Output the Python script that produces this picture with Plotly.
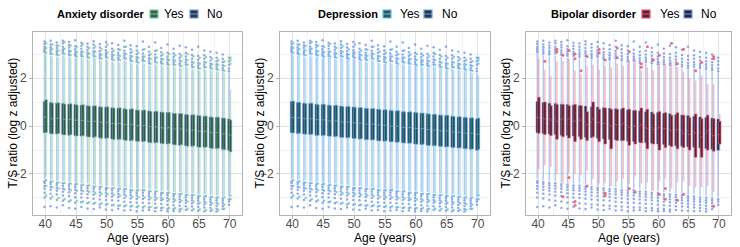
import plotly.graph_objects as go

ages = list(range(40, 71))

# ---- "No" group (shared shape across panels) ----
no_med = [0.36,0.33,0.31,0.30,0.27,0.25,0.22,0.21,0.18,0.16,0.14,0.11,0.09,0.07,0.05,0.02,0.00,-0.02,-0.05,-0.07,-0.09,-0.12,-0.14,-0.17,-0.19,-0.21,-0.24,-0.27,-0.29,-0.32,-0.36]
no_q3 = [1.02,0.98,0.95,0.94,0.91,0.90,0.87,0.85,0.83,0.80,0.79,0.76,0.74,0.72,0.70,0.67,0.65,0.63,0.60,0.58,0.56,0.53,0.51,0.48,0.46,0.44,0.41,0.38,0.36,0.33,0.29]
no_q1 = [-0.28,-0.31,-0.33,-0.35,-0.38,-0.40,-0.42,-0.44,-0.47,-0.49,-0.51,-0.54,-0.56,-0.58,-0.61,-0.63,-0.65,-0.68,-0.70,-0.72,-0.75,-0.77,-0.80,-0.82,-0.84,-0.87,-0.89,-0.92,-0.94,-0.97,-1.01]
no_hi = [3.0,2.95,2.9,2.95,2.9,2.85,2.85,2.8,2.85,2.75,2.8,2.7,2.7,2.75,2.65,2.6,2.65,2.55,2.6,2.55,2.5,2.5,2.45,2.5,2.4,2.35,2.4,2.35,2.3,2.25,2.2]
no_lo = [-2.2,-2.25,-2.3,-2.3,-2.35,-2.35,-2.4,-2.4,-2.45,-2.45,-2.5,-2.5,-2.55,-2.55,-2.6,-2.6,-2.6,-2.65,-2.65,-2.7,-2.7,-2.75,-2.75,-2.8,-2.8,-2.85,-2.85,-2.9,-2.9,-2.95,-2.95]
no_up_out = [
    [3.08,3.15,3.22,3.3,3.42,3.52],[3.02,3.1,3.19,3.28,3.4,3.55],[2.98,3.06,3.14,3.25,3.36,3.48],
    [3.03,3.12,3.2,3.31,3.45,3.56],[2.97,3.05,3.15,3.27,3.38,3.5],[2.93,3.0,3.1,3.2,3.33,3.58],
    [2.92,3.0,3.1,3.22,3.35,3.47],[2.88,2.97,3.07,3.18,3.3,3.44],[2.92,3.02,3.12,3.25,3.4,3.53],
    [2.83,2.92,3.0,3.12,3.27,3.42],[2.88,2.96,3.05,3.16,3.3,3.5],[2.78,2.87,2.97,3.08,3.22,3.45],
    [2.77,2.85,2.95,3.06,3.2,3.38],[2.83,2.92,3.02,3.14,3.3,3.55],[2.73,2.82,2.92,3.05,3.2,3.37],
    [2.68,2.77,2.88,3.0,3.15,3.33],[2.72,2.8,2.9,3.02,3.18,3.52],[2.63,2.72,2.83,2.95,3.1,3.3],
    [2.67,2.76,2.86,2.98,3.14,3.48],[2.62,2.7,2.8,2.93,3.08,3.25],[2.58,2.67,2.78,2.9,3.05,3.4],
    [2.57,2.66,2.76,2.88,3.02,3.22],[2.53,2.62,2.73,2.85,3.0,3.35],[2.57,2.66,2.77,2.9,3.06,3.28],
    [2.48,2.57,2.68,2.8,2.96,3.18],[2.43,2.52,2.63,2.76,2.92,3.3],[2.47,2.56,2.67,2.8,2.95,3.15],
    [2.42,2.5,2.6,2.73,2.88,3.1],[2.38,2.47,2.58,2.7,2.85,3.05],[2.33,2.42,2.53,2.66,2.8,2.98],
    [2.28,2.4,2.55,2.7,2.85]]
no_lo_out = [
    [-2.3,-2.38,-2.5,-2.62,-2.78,-2.98,-3.38],[-2.33,-2.42,-2.53,-2.66,-2.82,-3.02,-3.35],
    [-2.38,-2.47,-2.58,-2.7,-2.86,-3.08,-3.4],[-2.39,-2.49,-2.6,-2.74,-2.9,-3.12,-3.3],
    [-2.43,-2.52,-2.63,-2.76,-2.92,-3.15,-3.42],[-2.44,-2.54,-2.66,-2.8,-2.97,-3.2,-3.45],
    [-2.48,-2.57,-2.68,-2.82,-2.98,-3.18,-3.38],[-2.49,-2.59,-2.7,-2.84,-3.0,-3.22,-3.44],
    [-2.53,-2.62,-2.73,-2.87,-3.03,-3.24,-3.46],[-2.54,-2.64,-2.76,-2.9,-3.06,-3.27,-3.4],
    [-2.58,-2.67,-2.78,-2.92,-3.08,-3.28,-3.48],[-2.59,-2.69,-2.8,-2.94,-3.1,-3.3,-3.5],
    [-2.63,-2.72,-2.83,-2.96,-3.12,-3.32,-3.45],[-2.64,-2.74,-2.86,-3.0,-3.16,-3.35,-3.52],
    [-2.68,-2.77,-2.88,-3.02,-3.18,-3.36,-3.5],[-2.69,-2.79,-2.9,-3.04,-3.2,-3.38,-3.55],
    [-2.68,-2.78,-2.9,-3.04,-3.2,-3.4,-3.52],[-2.73,-2.82,-2.93,-3.06,-3.22,-3.4,-3.5],
    [-2.74,-2.84,-2.95,-3.08,-3.24,-3.42,-3.55],[-2.78,-2.87,-2.98,-3.1,-3.25,-3.42,-3.52],
    [-2.79,-2.89,-3.0,-3.13,-3.28,-3.45,-3.55],[-2.83,-2.92,-3.03,-3.16,-3.3,-3.46,-3.54],
    [-2.84,-2.94,-3.05,-3.18,-3.32,-3.48,-3.56],[-2.88,-2.97,-3.08,-3.2,-3.34,-3.5],
    [-2.89,-2.99,-3.1,-3.22,-3.36,-3.52],[-2.93,-3.02,-3.12,-3.24,-3.38,-3.53],
    [-2.94,-3.04,-3.15,-3.27,-3.4,-3.55],[-2.98,-3.07,-3.17,-3.29,-3.42,-3.54],
    [-2.99,-3.09,-3.2,-3.32,-3.45,-3.56],[-3.03,-3.12,-3.22,-3.34,-3.46],[-3.05,-3.15,-3.28]]

# ---- "Yes" outliers for anxiety / depression ----
yes_up_out = [
    [3.05,3.25,3.45],[3.0,3.2,3.4],[2.95,3.15,3.35],[3.0,3.22,3.5],[2.95,3.12,3.36],[2.9,3.08,3.3],
    [2.9,3.1,3.42],[2.85,3.02,3.25],[2.9,3.1,3.32],[2.8,2.98,3.2],[2.85,3.05,3.4],[2.75,2.95,3.15],
    [2.75,2.92,3.18],[2.8,3.0,3.3],[2.7,2.9,3.1],[2.65,2.85,3.05],[2.7,2.9,3.2],[2.6,2.8,3.0],
    [2.65,2.85,3.15],[2.6,2.78,2.98],[2.55,2.75,3.0],[2.55,2.72,2.95],[2.5,2.7,2.92],[2.55,2.75,3.0],
    [2.45,2.65,2.9],[2.4,2.6,2.85],[2.45,2.65,2.88],[2.4,2.58,2.8],[2.35,2.55,2.75],[2.3,2.5,2.7],
    [2.6,2.75,2.85]]
yes_lo_out = [
    [-2.25,-2.5,-2.9],[-2.3,-2.55,-2.95],[-2.35,-2.6,-3.0],[-2.38,-2.65,-3.05],[-2.4,-2.68,-3.1],
    [-2.42,-2.7,-3.12],[-2.45,-2.72,-3.15],[-2.48,-2.75,-3.18],[-2.52,-2.8,-3.2],[-2.53,-2.82,-3.22],
    [-2.58,-2.85,-3.25],[-2.58,-2.88,-3.28],[-2.62,-2.9,-3.3],[-2.63,-2.92,-3.3],[-2.68,-2.95,-3.32],
    [-2.68,-2.97,-3.35],[-2.68,-2.98,-3.35],[-2.72,-3.0,-3.38],[-2.72,-3.02,-3.4],[-2.78,-3.05,-3.4],
    [-2.78,-3.06,-3.42],[-2.82,-3.1,-3.42],[-2.82,-3.12,-3.45],[-2.88,-3.15,-3.45],[-2.88,-3.16,-3.46],
    [-2.92,-3.2,-3.48],[-2.92,-3.2,-3.5],[-2.95,-3.22,-3.5],[-2.98,-3.25,-3.5],[-2.98,-3.28,-3.45],
    [-2.9,-3.05]]

# ---- Anxiety disorder: Yes ----
anx_med = [0.38,0.30,0.33,0.28,0.29,0.24,0.24,0.19,0.20,0.15,0.16,0.10,0.11,0.06,0.07,0.01,0.02,-0.03,-0.03,-0.08,-0.07,-0.13,-0.12,-0.18,-0.17,-0.22,-0.22,-0.28,-0.27,-0.33,-0.38]
anx_q3 = [1.10,0.96,0.97,0.92,0.93,0.88,0.89,0.83,0.85,0.79,0.80,0.75,0.76,0.70,0.72,0.66,0.67,0.61,0.62,0.57,0.57,0.52,0.52,0.47,0.47,0.43,0.42,0.37,0.37,0.32,0.25]
anx_q1 = [-0.27,-0.33,-0.31,-0.37,-0.36,-0.42,-0.41,-0.46,-0.45,-0.51,-0.50,-0.56,-0.55,-0.60,-0.59,-0.65,-0.64,-0.70,-0.69,-0.74,-0.73,-0.79,-0.78,-0.84,-0.83,-0.89,-0.88,-0.94,-0.93,-0.99,-1.08]
anx_hi = [2.95,2.9,2.85,2.9,2.85,2.8,2.8,2.75,2.8,2.7,2.75,2.65,2.65,2.7,2.6,2.55,2.6,2.5,2.55,2.5,2.45,2.45,2.4,2.45,2.35,2.3,2.35,2.3,2.25,2.2,1.5]
anx_lo = [-2.1,-2.2,-2.25,-2.3,-2.3,-2.35,-2.35,-2.4,-2.45,-2.45,-2.5,-2.5,-2.55,-2.55,-2.6,-2.6,-2.6,-2.65,-2.65,-2.7,-2.7,-2.75,-2.75,-2.8,-2.8,-2.85,-2.85,-2.85,-2.9,-2.9,-2.8]

# ---- Depression: Yes ----
dep_med = [0.35,0.34,0.30,0.31,0.26,0.26,0.21,0.22,0.17,0.17,0.13,0.12,0.08,0.08,0.04,0.03,-0.01,-0.01,-0.06,-0.06,-0.10,-0.11,-0.15,-0.16,-0.20,-0.20,-0.25,-0.26,-0.30,-0.31,-0.34]
dep_q3 = [1.04,0.99,0.93,0.95,0.89,0.91,0.86,0.87,0.81,0.81,0.78,0.77,0.73,0.73,0.69,0.68,0.64,0.64,0.59,0.59,0.55,0.54,0.50,0.49,0.45,0.45,0.40,0.39,0.35,0.34,0.33]
dep_q1 = [-0.29,-0.30,-0.34,-0.34,-0.39,-0.39,-0.43,-0.43,-0.48,-0.48,-0.52,-0.53,-0.57,-0.57,-0.62,-0.62,-0.66,-0.67,-0.71,-0.71,-0.76,-0.76,-0.81,-0.81,-0.85,-0.86,-0.90,-0.91,-0.95,-0.96,-0.98]
dep_hi = [2.95,2.95,2.85,2.9,2.9,2.8,2.85,2.75,2.8,2.75,2.75,2.7,2.65,2.7,2.6,2.6,2.6,2.55,2.55,2.5,2.5,2.45,2.45,2.45,2.4,2.35,2.35,2.3,2.3,2.2,2.1]
dep_lo = [-2.15,-2.2,-2.25,-2.3,-2.3,-2.35,-2.4,-2.4,-2.45,-2.45,-2.5,-2.5,-2.55,-2.6,-2.6,-2.6,-2.65,-2.65,-2.7,-2.7,-2.7,-2.75,-2.75,-2.8,-2.8,-2.85,-2.85,-2.9,-2.9,-2.9,-2.9]

# ---- Bipolar disorder: Yes ----
bip_med = [0.35,0.30,0.25,0.20,0.30,0.30,0.20,0.25,0.05,0.30,0.15,0.10,0.00,0.05,0.10,-0.05,0.00,0.05,-0.10,-0.15,-0.05,-0.10,-0.20,-0.15,-0.30,-0.35,-0.30,-0.45,-0.20,-0.40,-0.35]
bip_q3 = [1.20,1.00,0.85,0.90,0.90,0.85,0.90,0.85,0.60,1.00,0.70,0.75,0.70,0.70,0.75,0.70,0.65,0.75,0.70,0.50,0.60,0.55,0.45,0.55,0.45,0.35,0.50,0.30,0.45,0.30,0.20]
bip_q1 = [-0.30,-0.35,-0.40,-0.55,-0.45,-0.50,-0.65,-0.55,-0.60,-0.45,-0.65,-0.75,-0.95,-0.60,-0.60,-0.80,-0.75,-0.70,-0.95,-0.75,-1.00,-0.90,-0.85,-0.95,-0.90,-1.00,-1.30,-1.30,-1.00,-1.05,-0.75]
bip_hi = [2.8,2.35,2.1,2.7,2.7,2.8,2.3,2.15,2.5,2.55,2.35,2.5,2.45,2.6,2.5,2.75,2.8,2.3,2.45,2.3,2.7,2.6,2.7,2.45,2.25,2.0,1.9,2.1,1.75,1.75,0.5]
bip_lo = [-1.8,-1.65,-1.7,-2.0,-2.4,-1.95,-2.0,-2.05,-1.85,-2.2,-2.4,-2.35,-2.5,-2.3,-2.2,-2.4,-2.1,-2.4,-2.35,-2.7,-2.3,-2.2,-2.6,-2.35,-2.3,-2.5,-2.55,-2.55,-2.5,-2.75,-1.0]
bip_up_out = [[],[2.7],[],[3.1,3.2],[2.95],[3.15],[2.8,3.0],[2.3],[2.9],[],[3.2,3.05],[2.75],[],[3.25,2.85],[],[3.1],
              [],[2.6,2.45],[3.3],[2.75],[2.95],[],[3.45],[2.6],[3.2],[],[2.3],[2.65],[],[2.8,2.9],[]]
bip_lo_out = [[],[],[],[],[-2.95],[-2.15],[-3.15,-3.3],[],[-2.5],[],[],[-2.8,-2.9],[],[],[],[-2.6],
              [-2.75],[],[],[],[-2.85],[-2.6,-3.05],[],[-3.1],[-2.85],[],[],[],[],[-3.35],[]]

titles = ["Anxiety disorder", "Depression", "Bipolar disorder"]
no_color = "#7b9be0"
no_whisk = "rgba(123,155,224,0.55)"
yes_colors = ["#72cf9f", "#5cc4ea", "#e8566c"]
yes_whisk = ["rgba(114,207,159,0.5)", "rgba(92,196,234,0.5)", "rgba(236,110,130,0.45)"]
no_fills = ["#283a48", "#1e3a4a", "#222b3e"]
yes_fills = ["rgba(44,74,64,0.9)", "rgba(29,66,80,0.9)", "rgba(86,24,44,0.95)"]

panels = [
    dict(med=anx_med, q1=anx_q1, q3=anx_q3, hi=anx_hi, lo=anx_lo, up=yes_up_out, dn=yes_lo_out),
    dict(med=dep_med, q1=dep_q1, q3=dep_q3, hi=dep_hi, lo=dep_lo, up=yes_up_out, dn=yes_lo_out),
    dict(med=bip_med, q1=bip_q1, q3=bip_q3, hi=bip_hi, lo=bip_lo, up=bip_up_out, dn=bip_lo_out),
]

W, H = 740, 247
px = lambda v: v / W
py = lambda v: 1 - v / H
plot_left = [33, 280, 526]
plot_right = [242, 490, 731]
top_px, bot_px = 32, 215
DODGE = 0.13     # half-distance between the two dodged boxes (data units)
BOXW = 0.42      # box width (data units)

fig = go.Figure()
FONT = "Liberation Sans, Arial, sans-serif"

for i, p in enumerate(panels):
    ax = "" if i == 0 else str(i + 1)
    xa, ya = "x" + ax, "y" + ax
    groups = [
        ("No", no_med, no_q1, no_q3, no_hi, no_lo, no_up_out, no_lo_out, no_color, no_whisk, no_fills[i], -DODGE, 2.5),
        ("Yes", p["med"], p["q1"], p["q3"], p["hi"], p["lo"], p["up"], p["dn"], yes_colors[i], yes_whisk[i], yes_fills[i], DODGE, 3 if i == 2 else 2.5),
    ]
    # whiskers (light)
    for name, med, q1, q3, hi, lo, up, dn, col, wcol, fcol, o, ms in groups:
        fig.add_trace(go.Box(
            x=[a + o for a in ages], q1=med, median=med, q3=med, lowerfence=lo, upperfence=hi,
            width=BOXW, xaxis=xa, yaxis=ya,
            line=dict(color=wcol, width=1.5), fillcolor="rgba(0,0,0,0)",
            whiskerwidth=0, showlegend=False, hoverinfo="skip", boxpoints=False))
    # boxes
    for name, med, q1, q3, hi, lo, up, dn, col, wcol, fcol, o, ms in groups:
        fig.add_trace(go.Box(
            x=[a + o for a in ages], q1=q1, median=med, q3=q3, lowerfence=q1, upperfence=q3,
            width=BOXW, xaxis=xa, yaxis=ya,
            line=dict(color=col, width=0.6), fillcolor=fcol,
            whiskerwidth=0, showlegend=False, boxpoints=False))
    # outliers
    for name, med, q1, q3, hi, lo, up, dn, col, wcol, fcol, o, ms in groups:
        xs, ys = [], []
        for a, u, d in zip(ages, up, dn):
            for v in list(u) + list(d):
                xs.append(a + o)
                ys.append(v)
        fig.add_trace(go.Scatter(
            x=xs, y=ys, mode="markers", xaxis=xa, yaxis=ya,
            marker=dict(color=col, size=ms, opacity=0.85, line=dict(width=0)),
            showlegend=False, hoverinfo="skip"))

    axis_common = dict(showline=True, mirror=True, linecolor="#b3b3b3", linewidth=1,
                       ticks="outside", ticklen=3, tickcolor="#b3b3b3",
                       tickfont=dict(size=12, color="#4d4d4d", family=FONT),
                       showgrid=True, gridcolor="#e3e3e3", gridwidth=0.8,
                       zeroline=False, automargin=False)
    fig.layout["xaxis" + ax] = dict(
        axis_common, domain=[px(plot_left[i]), px(plot_right[i])], range=[38.0, 72.0],
        tickvals=[40, 45, 50, 55, 60, 65, 70], anchor=ya, ticklabelstandoff=-5,
        minor=dict(dtick=2.5, tick0=40, showgrid=True, gridcolor="#f1f1f1", gridwidth=0.5))
    fig.layout["yaxis" + ax] = dict(
        axis_common, domain=[py(bot_px), py(top_px)], range=[-3.71, 3.92],
        tickvals=[-2, 0, 2], anchor=xa,
        minor=dict(dtick=1, tick0=0, showgrid=True, gridcolor="#f1f1f1", gridwidth=0.5))

    # axis titles
    cx = (plot_left[i] + plot_right[i]) / 2
    fig.add_annotation(x=px(cx), y=py(238), xref="paper", yref="paper", text="Age (years)",
                       xanchor="center", yanchor="middle",
                       showarrow=False, font=dict(size=12, color="black", family=FONT))
    fig.add_annotation(x=px(plot_left[i] - 21), y=py((top_px + bot_px) / 2), xref="paper", yref="paper",
                       text="T/S ratio (log z adjusted)", textangle=-90, showarrow=False,
                       xanchor="center", yanchor="middle",
                       font=dict(size=12, color="black", family=FONT))

# legends
leg = [
    dict(t=55, k1=150, yes=162, k2=190, no=205),
    dict(t=316, k1=383, yes=398, k2=424, no=440),
    dict(t=549, k1=642, yes=658, k2=684, no=699),
]
ly = 14
for i, L in enumerate(leg):
    fig.add_annotation(x=px(L["t"]), y=py(ly), xref="paper", yref="paper", xanchor="left", yanchor="middle",
                       text="<b>%s</b>" % titles[i], showarrow=False,
                       font=dict(size=11, color="black", family=FONT))
    for kx, lab, col, fcol in [(L["k1"], "Yes", yes_colors[i], yes_fills[i]),
                               (L["k2"], "No", no_color, no_fills[i])]:
        fig.add_shape(type="rect", xref="paper", yref="paper",
                      x0=px(kx), x1=px(kx + 8), y0=py(ly + 4), y1=py(ly - 4),
                      fillcolor=fcol, line=dict(color=col, width=1.2))
        fig.add_shape(type="line", xref="paper", yref="paper",
                      x0=px(kx), x1=px(kx + 8), y0=py(ly), y1=py(ly),
                      line=dict(color=col, width=1))
    fig.add_annotation(x=px(L["yes"]), y=py(ly), xref="paper", yref="paper", xanchor="left", yanchor="middle",
                       text="Yes", showarrow=False, font=dict(size=12, color="black", family=FONT))
    fig.add_annotation(x=px(L["no"]), y=py(ly), xref="paper", yref="paper", xanchor="left", yanchor="middle",
                       text="No", showarrow=False, font=dict(size=12, color="black", family=FONT))

fig.update_layout(
    width=W, height=H, margin=dict(l=0, r=0, t=0, b=0),
    paper_bgcolor="white", plot_bgcolor="white",
    boxmode="overlay",
    showlegend=False, font=dict(family=FONT, size=12),
)

fig.write_html("out.html", config={"displayModeBar": False},
               post_script="document.body.style.margin='0px';")
